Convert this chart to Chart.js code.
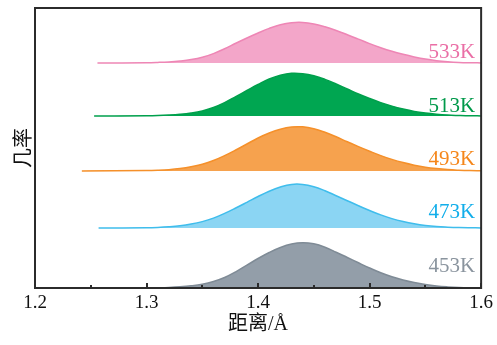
<!DOCTYPE html>
<html>
<head>
<meta charset="utf-8">
<script src="https://cdn.jsdelivr.net/npm/chart.js@4.4.1/dist/chart.umd.min.js"></script>
<style>
  html, body { margin: 0; padding: 0; background: #fff; }
  #wrap { width: 497px; height: 345px; }
</style>
</head>
<body>
<div id="wrap"><canvas id="chart"></canvas></div>
<script>
// Distance grid (Å)
const distances = [1.30, 1.31, 1.32, 1.33, 1.34, 1.35, 1.36, 1.37, 1.38, 1.39, 1.40,
    1.41, 1.42, 1.43, 1.44, 1.45, 1.46, 1.47, 1.48, 1.49, 1.50,
    1.51, 1.52, 1.53, 1.54, 1.55, 1.56, 1.57, 1.58, 1.59, 1.60];

const temperatures = ['453K', '473K', '493K', '513K', '533K'];

// where each baseline line starts on the left
const lineStart = [1.30, 1.257, 1.242, 1.253, 1.256];

// vertical offset of each ridge
const offsets = [0, 60, 117, 172, 225];

const p453 = [0.1, 0.3, 0.6, 1.2, 2.2, 3.8, 6.5, 10.5, 16.2, 22.8, 29.5, 35.5, 40.5, 44, 45.3, 44.2,
    40.8, 35.8, 30.5, 25.2, 20, 15.2, 11.2, 8.0, 5.4, 3.4, 2.0, 1.1, 0.5, 0.2, 0.1];
const p473 = [0.3, 0.6, 1.2, 2.2, 3.9, 6.4, 9.9, 14.6, 20, 25.7, 31.5, 36.8, 41, 43.6, 43.6, 41.3,
    37.2, 32.3, 27.3, 22.3, 17.5, 13.1, 9.4, 6.5, 4.2, 2.5, 1.4, 0.8, 0.4, 0.2, 0.1];
const p493 = [0.4, 0.7, 1.3, 2.4, 4.2, 6.8, 10.5, 15.4, 21, 27, 33, 38, 41.8, 44, 44.2, 42.3,
    38.7, 34.2, 29.2, 24.4, 19.8, 15.4, 11.6, 8.4, 5.8, 3.8, 2.4, 1.4, 0.8, 0.4, 0.2];
const p513 = [0.2, 0.4, 0.9, 1.7, 3.0, 5.1, 8.5, 13.4, 19.4, 25.5, 31.5, 37, 40.8, 42.7, 42.3, 40.2,
    36.6, 32, 27, 22, 17.5, 13.4, 9.9, 7, 4.6, 2.9, 1.7, 0.9, 0.5, 0.2, 0.1];
const p533 = [0.3, 0.6, 1.1, 2.0, 3.4, 5.7, 9.4, 14.2, 19.7, 25, 30, 34.6, 38.2, 40.3, 40.6, 39.1,
    36.2, 32.5, 28.3, 23.9, 19.4, 15.3, 11.7, 8.7, 6.1, 3.9, 2.3, 1.2, 0.5, 0.2, 0.1];

const xTicks = [1.2, 1.3, 1.4, 1.5, 1.6];

const series = [p453, p473, p493, p513, p533];
const lineColors = ['#7f8b96', '#3fbdec', '#f5902a', '#00a04c', '#ee86b5'];
const fillColors = ['#939ea9', '#8bd5f3', '#f6a24e', '#00a651', '#f3a6c9'];
const labelColors = ['#8a949e', '#12aeea', '#f5861a', '#00994a', '#ea6fa6'];
const labelLift = [16, 10, 6, 4, 5];

function buildDatasets() {
    return series.map((vals, i) => {
        const pts = [{ x: lineStart[i], y: offsets[i] }];
        distances.forEach((d, j) => pts.push({ x: d, y: offsets[i] + vals[j] }));
        return {
            label: temperatures[i],
            data: pts,
            borderColor: lineColors[i],
            backgroundColor: fillColors[i],
            borderWidth: 1.5,
            pointRadius: 0,
            tension: 0.4,
            fill: { value: offsets[i] }
        };
    });
}

// frame, inward ticks and the temperature labels
const decorPlugin = {
    id: 'decor',
    afterDatasetsDraw(chart) {
        const ctx = chart.ctx;
        const a = chart.chartArea;
        const xs = chart.scales.x;
        const ys = chart.scales.y;
        ctx.save();
        ctx.strokeStyle = '#2b2b2b';
        ctx.lineWidth = 2;
        ctx.strokeRect(a.left, a.top, a.right - a.left, a.bottom - a.top);
        for (let v = 1.2; v <= 1.6001; v += 0.05) {
            const px = Math.round(xs.getPixelForValue(v));
            const major = Math.abs(v * 10 - Math.round(v * 10)) < 0.01;
            ctx.beginPath();
            ctx.moveTo(px, a.bottom);
            ctx.lineTo(px, a.bottom - (major ? 5 : 3));
            ctx.stroke();
        }
        ctx.font = '21px "Liberation Serif", serif';
        ctx.textAlign = 'right';
        ctx.textBaseline = 'alphabetic';
        temperatures.forEach((t, i) => {
            ctx.fillStyle = labelColors[i];
            ctx.fillText(t, xs.getPixelForValue(1.6) - 6, ys.getPixelForValue(offsets[i]) - labelLift[i]);
        });
        ctx.restore();
    }
};

function createChart() {
    const ctx = document.getElementById('chart').getContext('2d');
    new Chart(ctx, {
        type: 'line',
        data: { datasets: buildDatasets() },
        options: {
            responsive: true,
            maintainAspectRatio: false,
            animation: false,
            layout: { padding: { top: 8, right: 13, left: 0, bottom: 0 } },
            plugins: {
                legend: { display: false },
                tooltip: { enabled: false }
            },
            scales: {
                x: {
                    type: 'linear',
                    min: 1.2,
                    max: 1.6,
                    afterBuildTicks(scale) {
                        scale.ticks = xTicks.map(v => ({ value: v }));
                    },
                    afterFit(scale) { scale.height = 57; },
                    grid: { display: false, drawTicks: false },
                    border: { display: false },
                    ticks: {
                        padding: 4,
                        color: '#111',
                        font: { family: '"Liberation Serif", serif', size: 19 },
                        callback: v => v.toFixed(1)
                    },
                    title: {
                        display: true,
                        text: '距离/Å',
                        color: '#111',
                        padding: { top: 0, bottom: 8 },
                        font: { family: '"Liberation Serif", "Noto Sans CJK SC", serif', size: 20 }
                    }
                },
                y: {
                    min: 0,
                    max: 280,
                    afterFit(scale) { scale.width = 35; },
                    grid: { display: false, drawTicks: false },
                    border: { display: false },
                    ticks: { display: false },
                    title: {
                        display: true,
                        text: '几率',
                        color: '#111',
                        padding: { top: 10, bottom: 0 },
                        font: { family: '"Noto Sans CJK SC", sans-serif', size: 20 }
                    }
                }
            }
        },
        plugins: [decorPlugin]
    });
}

document.addEventListener('DOMContentLoaded', createChart);
</script>
</body>
</html>
